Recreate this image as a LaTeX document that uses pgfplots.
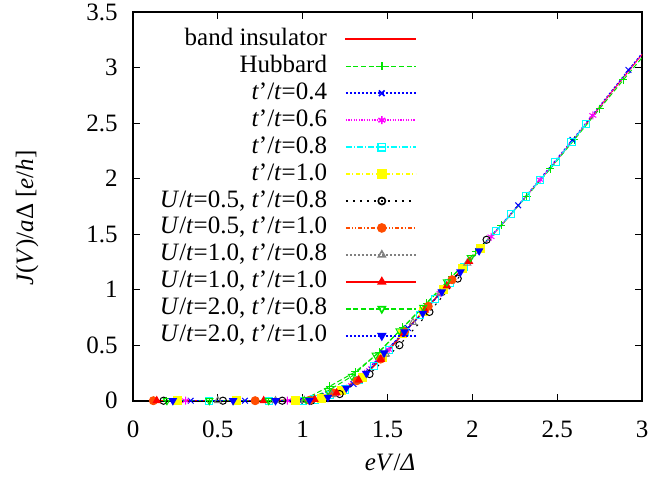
\documentclass[border=0pt]{standalone}
\usepackage{fontspec}
\setmainfont{Liberation Serif}
\usepackage{pgfplots}
\pgfplotsset{compat=1.18}

\definecolor{gpred}{rgb}{1,0,0}
\definecolor{gpgreen}{rgb}{0,0.9,0}
\definecolor{gpblue}{rgb}{0,0,1}
\definecolor{gpmag}{rgb}{1,0,1}
\definecolor{gpcyan}{rgb}{0,1,1}
\definecolor{gpyellow}{rgb}{1,1,0}
\definecolor{gporange}{rgb}{1,0.3,0}
\definecolor{gpgray}{rgb}{0.5,0.5,0.5}

\newcommand{\iv}[1]{\textit{#1}}

\begin{document}
\begin{tikzpicture}
\begin{axis}[
  name=ax, scale only axis, width=254.5pt, height=194.25pt,
  xmin=0, xmax=3, ymin=0, ymax=3.5,
  xtick={0,0.5,...,3}, ytick={0,0.5,...,3.5},
  /pgf/number format/assume math mode=true,
  tick label style={font=\fontsize{12.5}{14}\selectfont},
  xticklabel style={anchor=base, yshift=-18.5pt},
  yticklabel style={anchor=east, inner sep=0pt, xshift=-7.5pt},
  axis line style={line width=0.9pt},
  tick style={black, line width=0.6pt},
  major tick length=3.5pt,
  every axis x label/.style={at={(rel axis cs:0.505,0)}, yshift=-31pt, anchor=center},
  every axis y label/.style={at={(rel axis cs:0,0.47)}, xshift=-53pt, rotate=90, anchor=center},
  label style={font=\fontsize{12.5}{14}\selectfont},
  xlabel={\iv{eV}/\iv{Δ}},
  ylabel={\iv{J}(\iv{V})/\iv{a}Δ [\iv{e}/\iv{h}]},
  legend plot pos=right,
  legend cell align=right,
  legend style={at={(rel axis cs:0.558,0.962)}, anchor=north east, draw=none, fill=none,
    inner sep=0pt, font=\fontsize{12.5}{14}\selectfont, row sep=1.47pt, column sep=9pt,
    nodes={inner sep=0pt, text height=9pt, text depth=3pt}},
  legend image code/.code={\draw[#1, mark indices={2}, line width=0.8pt] plot coordinates {(0pt,0pt) (18pt,0pt) (35pt,0pt)};},
  every axis plot/.append style={line width=0.5pt, mark size=2pt, mark options={solid}},
]
% band insulator
\addplot[gpred, no marks, legend image code/.code={\color{gpred}\fill[gpred] (0pt,-0.3pt) rectangle (35pt,0.3pt);}] coordinates {
(0.1,0) (1.0,0) (1.05,0.005) (1.10,0.02) (1.15,0.045) (1.20,0.07) (1.25,0.10) (1.30,0.15)
(1.35,0.21) (1.40,0.28) (1.45,0.355) (1.50,0.44) (1.55,0.53) (1.60,0.62) (1.65,0.705)
(1.70,0.785) (1.75,0.865) (1.80,0.95) (1.85,1.035) (1.90,1.12) (1.95,1.205) (2.00,1.29)
(2.10,1.46) (2.20,1.63) (2.30,1.81) (2.40,1.99) (2.50,2.17) (2.60,2.36) (2.70,2.55)
(2.80,2.74) (2.90,2.93) (3.00,3.12)};
\addlegendentry{band insulator}
% Hubbard
\addplot[gpgreen, dash pattern=on 2.5pt off 1.3pt, mark=+, mark indices={1,...,17}] coordinates {
(0.2,0) (0.45,0) (0.8,0) (1.0,0.005) (1.16,0.13) (1.31,0.26) (1.45,0.435) (1.59,0.66)
(1.73,0.88) (1.88,1.12) (2.02,1.34) (2.17,1.58) (2.32,1.84) (2.46,2.09) (2.60,2.35)
(2.75,2.63) (2.89,2.89) (3.0,3.09)};
\addlegendentry{Hubbard}
% t'/t=0.4
\addplot[gpblue, dash pattern=on 1pt off 1pt, mark=x, mark indices={1,...,9}] coordinates {
(0.34,0) (0.66,0) (0.98,0) (1.3,0.15) (1.62,0.655) (1.95,1.205) (2.27,1.76) (2.59,2.35)
(2.92,2.98) (3.0,3.13)};
\addlegendentry{\iv{t}'/\iv{t}=0.4}
% t'/t=0.6
\addplot[gpmag, dash pattern=on 0.6pt off 0.7pt, mark=asterisk, mark indices={1,...,9}] coordinates {
(0.31,0) (0.61,0) (0.91,0) (1.21,0.076) (1.51,0.458) (1.81,0.967) (2.11,1.477) (2.40,1.99)
(2.71,2.57) (3.0,3.12)};
\addlegendentry{\iv{t}'/\iv{t}=0.6}
% t'/t=0.8
\addplot[gpcyan, dash pattern=on 3pt off 1pt on 0.6pt off 1pt, mark=square, mark size=1.8pt] coordinates {
(0.45,0) (0.8,0) (1.0,0) (1.07,0.011) (1.16,0.05) (1.25,0.10) (1.33,0.186) (1.42,0.31)
(1.51,0.458) (1.60,0.62) (1.69,0.769) (1.78,0.916) (1.865,1.06) (1.95,1.205) (2.05,1.375)
(2.139,1.526) (2.228,1.68) (2.316,1.839) (2.40,1.99) (2.49,2.151) (2.584,2.33) (2.669,2.49)};
\addlegendentry{\iv{t}'/\iv{t}=0.8}
% t'/t=1.0
\addplot[gpyellow, dash pattern=on 2pt off 1.2pt on 0.6pt off 1.2pt, mark=square*, mark options={solid, fill=gpyellow}] coordinates {
(0.26,0) (0.61,0) (0.96,0) (1.11,0.024) (1.23,0.088) (1.35,0.21) (1.47,0.389) (1.59,0.602)
(1.71,0.80) (1.83,1.001) (1.94,1.188) (2.05,1.375)};
\addlegendentry{\iv{t}'/\iv{t}=1.0}
% U/t=0.5, t'/t=0.8
\addplot[black, dash pattern=on 1pt off 2.5pt, mark=o, mark size=1.8pt] coordinates {
(0.18,0) (0.53,0) (0.88,0) (1.05,0) (1.218,0.06) (1.394,0.24) (1.57,0.50) (1.747,0.80)
(1.914,1.10) (2.084,1.45)};
\addlegendentry{\iv{U}/\iv{t}=0.5, \iv{t}'/\iv{t}=0.8}
% U/t=0.5, t'/t=1.0
\addplot[gporange, dash pattern=on 2pt off 1pt on 0.6pt off 1pt on 0.6pt off 1pt, mark=*, mark options={solid, fill=gporange}] coordinates {
(0.12,0) (0.72,0) (1.04,0.004) (1.18,0.07) (1.32,0.18) (1.46,0.375) (1.60,0.62) (1.74,0.85)
(1.88,1.09)};
\addlegendentry{\iv{U}/\iv{t}=0.5, \iv{t}'/\iv{t}=1.0}
% U/t=1.0, t'/t=0.8
\addplot[gpgray, dash pattern=on 1pt off 1pt, mark=triangle] coordinates {
(0.5,0) (0.84,0) (1.01,0.002) (1.17,0.055) (1.33,0.186) (1.49,0.42) (1.65,0.705) (1.81,0.967)
(1.97,1.24)};
\addlegendentry{\iv{U}/\iv{t}=1.0, \iv{t}'/\iv{t}=0.8}
% U/t=1.0, t'/t=1.0
\addplot[gpred, mark=triangle*, mark options={solid, fill=gpred}] coordinates {
(0.14,0) (0.77,0) (1.07,0.011) (1.2,0.07) (1.33,0.186) (1.46,0.372) (1.59,0.602) (1.72,0.817)
(1.85,1.035) (1.98,1.256)};
\addlegendentry{\iv{U}/\iv{t}=1.0, \iv{t}'/\iv{t}=1.0}
% U/t=2.0, t'/t=0.8
\addplot[gpgreen, dash pattern=on 2.5pt off 1.3pt, mark=triangle, mark options={solid, rotate=180}] coordinates {
(0.2,0) (0.45,0) (0.8,0) (1.02,0.01) (1.15,0.09) (1.29,0.22) (1.43,0.41) (1.57,0.63)
(1.71,0.84) (1.85,1.07) (1.99,1.29)};
\addlegendentry{\iv{U}/\iv{t}=2.0, \iv{t}'/\iv{t}=0.8}
% U/t=2.0, t'/t=1.0
\addplot[gpblue, dash pattern=on 1pt off 1pt, mark=triangle*, mark options={solid, rotate=180, fill=gpblue}] coordinates {
(0.235,0) (0.59,0) (0.84,0) (1.04,0.004) (1.149,0.03) (1.257,0.114) (1.375,0.247) (1.48,0.43)
(1.6,0.62) (1.708,0.787) (1.82,0.98) (1.93,1.16) (2.04,1.35)};
\addlegendentry{\iv{U}/\iv{t}=2.0, \iv{t}'/\iv{t}=1.0}
\end{axis}
\pgfresetboundingbox
\path ([shift={(-66.5pt,-42.65pt)}]ax.south west) rectangle ([shift={(4.5pt,6.1pt)}]ax.north east);
\end{tikzpicture}
\end{document}
